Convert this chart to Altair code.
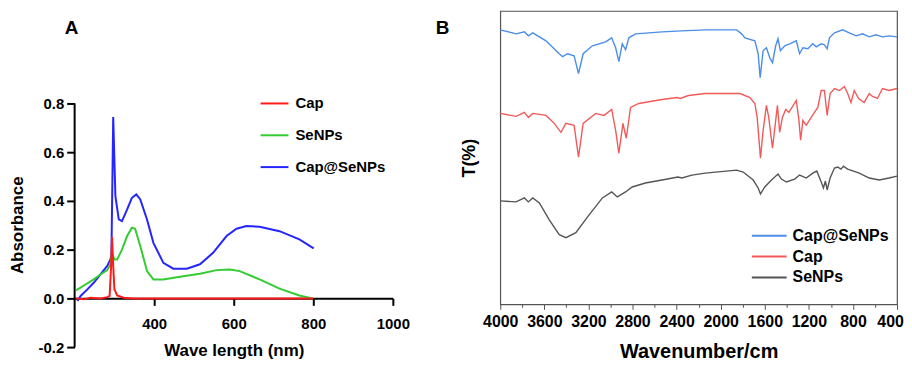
import altair as alt
import pandas as pd

FONT = "Liberation Sans"

# ---------------- Panel A: UV-Vis absorbance ----------------
capse_nm = [207, 215, 232, 248, 265, 282, 290, 292.5, 297, 302.5, 311, 319, 332, 344, 355, 365,
            382, 398, 423, 448, 482, 515, 548, 582, 607, 632, 665, 715, 765, 801]
capse_abs = [-0.011, 0.01, 0.037, 0.064, 0.099, 0.133, 0.16, 0.18, 0.745, 0.42, 0.324, 0.317,
             0.365, 0.413, 0.427, 0.406, 0.324, 0.228, 0.146, 0.122, 0.122, 0.14, 0.187, 0.256,
             0.286, 0.297, 0.294, 0.276, 0.242, 0.205]

senps_nm = [203, 215, 232, 248, 265, 282, 290, 294, 300, 307, 319, 332, 344, 352, 365, 382,
            398, 423, 465, 515, 557, 590, 615, 665, 715, 765, 798]
senps_abs = [0.033, 0.044, 0.062, 0.078, 0.098, 0.116, 0.14, 0.187, 0.16, 0.16, 0.2, 0.256,
             0.29, 0.286, 0.215, 0.112, 0.078, 0.078, 0.089, 0.101, 0.116, 0.119, 0.112, 0.078,
             0.04, 0.012, 0.0]

cap_nm = [203, 223, 240, 265, 282, 288, 291.7, 294, 297, 300, 307, 323, 348, 800]
cap_abs = [0, -0.004, 0.003, 0, 0.005, 0.01, 0.133, 0.253, 0.133, 0.037, 0.012, 0.003, 0, 0]

uv_series = ["Cap", "SeNPs", "Cap@SeNPs"]
uv_colors = ["#ff1a1a", "#33cc33", "#2525ff"]
uv_y_ticks = [-0.2, 0, 0.2, 0.4, 0.6, 0.8]
uv_x_ticks = [400, 600, 800, 1000]

uv_rows = []
for name, xs, ys, order in [("Cap@SeNPs", capse_nm, capse_abs, 0),
                            ("SeNPs", senps_nm, senps_abs, 1),
                            ("Cap", cap_nm, cap_abs, 2)]:
    for x, y in zip(xs, ys):
        uv_rows.append({"nm": x, "abs": y, "sample": name, "o": order})
uv_df = pd.DataFrame(uv_rows)

# ---------------- Panel B: FTIR ----------------
ftir_blue_wn = [4000, 3856, 3781, 3745, 3705, 3585, 3465, 3434, 3389, 3330, 3290, 3248, 3164,
                3044, 2989, 2953, 2924, 2893, 2863, 2833, 2773, 2532, 2352, 2141, 1855, 1810,
                1780, 1690, 1660, 1642, 1615, 1585, 1555, 1530, 1501, 1480, 1458, 1419, 1374,
                1314, 1284, 1254, 1209, 1164, 1133, 1088, 1059, 1034, 1013, 968, 893, 833, 772,
                713, 652, 592, 532, 472, 400]
ftir_blue_t = [276, 272, 274, 270, 273, 265, 252, 249, 252, 250, 232, 252, 260, 264, 268, 258,
               244, 262, 256, 268, 272, 274, 275, 276, 276, 272, 268, 265, 252, 228, 255, 258,
               248, 243, 260, 267, 255, 260, 262, 265, 252, 258, 257, 262, 259, 262, 261, 257,
               268, 273, 276, 273, 270, 272, 269, 271, 269, 270, 269]

ftir_red_wn = [4000, 3856, 3781, 3745, 3705, 3585, 3510, 3450, 3404, 3330, 3290, 3248, 3134,
               3059, 2989, 2953, 2924, 2887, 2857, 2818, 2743, 2532, 2397, 2367, 2292, 2141,
               1825, 1735, 1690, 1669, 1639, 1615, 1585, 1564, 1530, 1501, 1485, 1465, 1440,
               1410, 1381, 1314, 1290, 1275, 1254, 1224, 1179, 1149, 1119, 1088, 1059, 1034,
               1007, 968, 923, 878, 848, 818, 788, 749, 698, 652, 623, 578, 532, 472, 400]
ftir_red_t = [192, 189, 193, 188, 192, 190, 182, 173, 182, 180, 148, 182, 192, 190, 196, 175,
              152, 182, 167, 198, 202, 206, 208, 207, 210, 212, 212, 208, 202, 188, 147, 175,
              200, 188, 157, 185, 200, 173, 188, 196, 193, 205, 185, 165, 185, 180, 188, 193,
              198, 215, 215, 190, 212, 217, 215, 219, 212, 203, 215, 207, 203, 212, 209, 207,
              217, 215, 217]

ftir_gray_wn = [4000, 3856, 3781, 3745, 3705, 3645, 3555, 3465, 3404, 3314, 3194, 3073, 2989,
                2938, 2863, 2803, 2683, 2532, 2388, 2352, 2261, 2141, 1855, 1796, 1705, 1660,
                1639, 1600, 1539, 1480, 1449, 1404, 1329, 1284, 1224, 1164, 1128, 1088, 1068,
                1050, 1034, 1007, 968, 938, 908, 887, 848, 743, 652, 562, 472, 400]
ftir_gray_t = [104, 103, 107, 103, 107, 102, 85, 70, 67, 72, 90, 107, 113, 108, 113, 118, 122,
               125, 128, 127, 130, 132, 135, 133, 125, 117, 111, 118, 125, 131, 126, 123, 126,
               130, 127, 132, 134, 123, 117, 124, 115, 127, 137, 138, 136, 139, 136, 132, 127,
               125, 127, 129]

ftir_series = ["Cap@SeNPs", "Cap", "SeNPs"]
ftir_colors = ["#4a8ee8", "#f25a5a", "#555555"]
ftir_major = list(range(400, 4001, 400))
ftir_minor = list(range(600, 4000, 400))
ftir_legend_rows = [69, 48, 27]   # legend entry heights on the T axis

ftir_rows = []
for name, xs, ys in [("Cap@SeNPs", ftir_blue_wn, ftir_blue_t),
                     ("Cap", ftir_red_wn, ftir_red_t),
                     ("SeNPs", ftir_gray_wn, ftir_gray_t)]:
    for x, y in zip(xs, ys):
        ftir_rows.append({"wn": x, "t": y, "sample": name})
ftir_df = pd.DataFrame(ftir_rows)
ftir_leg_df = pd.DataFrame({"sample": ftir_series, "t": ftir_legend_rows})

# ---------------- Build Panel A ----------------
axA_common = dict(domainColor="black", domainWidth=2, tickColor="black", tickWidth=2,
                  labelFont=FONT, labelFontWeight="bold", labelFontSize=15, labelColor="black",
                  titleFont=FONT, titleFontWeight="bold", titleFontSize=17, titleColor="black",
                  grid=False, labelFlush=False)

xA = alt.X("nm:Q", scale=alt.Scale(domain=[200, 1000], nice=False, zero=False),
           axis=alt.Axis(values=uv_x_ticks, title="Wave length (nm)", offset=-49, format="d",
                         tickSize=7, labelPadding=11, titlePadding=11, **axA_common))
yA = alt.Y("abs:Q", scale=alt.Scale(domain=[-0.2, 1.18], nice=False),
           axis=alt.Axis(values=uv_y_ticks, title="Absorbance", domain=False,
                         labelExpr="replace(format(datum.value, '.1f'), '\u2212', '-')",
                         tickSize=8, labelPadding=3, titlePadding=12, titleY=215,
                         **axA_common))

linesA = alt.Chart(uv_df).mark_line(strokeWidth=2).encode(
    x=xA, y=yA,
    color=alt.Color("sample:N", scale=alt.Scale(domain=uv_series, range=uv_colors),
                    legend=alt.Legend(title=None, orient="none", legendX=186, legendY=78,
                                      symbolType="stroke", symbolSize=784, symbolStrokeWidth=2,
                                      labelFont=FONT, labelFontWeight="bold", labelFontSize=15,
                                      labelColor="black", labelOffset=6, rowPadding=9)),
    order=alt.Order("o:Q"),
    detail="sample:N",
)

yaxis_line = alt.Chart(pd.DataFrame({"x": [200], "y": [uv_y_ticks[0]], "y2": [uv_y_ticks[-1]]})
                       ).mark_rule(color="black", strokeWidth=2).encode(
    x="x:Q", y="y:Q", y2="y2:Q")

labelA = alt.Chart(pd.DataFrame({"t": ["A"]})).mark_text(
    font=FONT, fontWeight="bold", fontSize=19, color="black", baseline="middle", align="center"
).encode(text="t:N", x=alt.value(-3), y=alt.value(17))

panelA = alt.layer(yaxis_line, linesA, labelA).properties(width=320, height=338)

# ---------------- Build Panel B ----------------
axB_common = dict(labelFont=FONT, labelFontWeight="bold", labelColor="black",
                  titleFont=FONT, titleFontWeight="bold", titleColor="black", grid=False)

colorB = alt.Color("sample:N", scale=alt.Scale(domain=ftir_series, range=ftir_colors),
                   legend=None)
yB = alt.Y("t:Q", scale=alt.Scale(domain=[0, 295], nice=False),
           axis=alt.Axis(title="T(%)", labels=False, ticks=False, domain=False,
                         titleFontSize=18, titlePadding=22, **axB_common))

linesB = alt.Chart(ftir_df).mark_line(strokeWidth=1.4).encode(
    x=alt.X("wn:Q", scale=alt.Scale(domain=[4000, 400], nice=False, zero=False),
            axis=alt.Axis(values=ftir_major, format="d", title="Wavenumber/cm",
                          domain=False, tickColor="#555555", tickSize=5, labelFontSize=16,
                          labelPadding=4, titleFontSize=20, titlePadding=12, labelFlush=False,
                          labelOffset={"condition": {"test": "datum.value == 400", "value": -7},
                                       "value": 0},
                          **axB_common)),
    y=yB,
    color=colorB,
)

legSymB = alt.Chart(ftir_leg_df).mark_rule(strokeWidth=2).encode(
    x=alt.value(253), x2=alt.value(288), y=yB, color=colorB)

legTextB = alt.Chart(ftir_leg_df).mark_text(
    font=FONT, fontWeight="bold", fontSize=16, color="black", align="left", baseline="middle"
).encode(x=alt.value(294), y=yB, text="sample:N")

minorB = alt.Chart(pd.DataFrame({"wn": [4000]})).mark_point(opacity=0).encode(
    x=alt.X("wn:Q", axis=alt.Axis(values=ftir_minor, labels=False, title=None,
                                  domain=False, tickColor="#555555", tickSize=3, grid=False,
                                  orient="bottom")))

labelB = alt.Chart(pd.DataFrame({"t": ["B"]})).mark_text(
    font=FONT, fontWeight="bold", fontSize=19, color="black", baseline="middle", align="center"
).encode(text="t:N", x=alt.value(-58), y=alt.value(17))

panelB = alt.layer(linesB, legSymB, legTextB, minorB, labelB).resolve_axis(
    x="independent").properties(
    width=399, height=295, view=alt.ViewBackground(stroke="#555555", strokeWidth=1.2))

chart = alt.hconcat(panelA, panelB, spacing=25).resolve_scale(color="independent").properties(
    padding={"left": 0, "top": 1, "right": 0, "bottom": 0}
).configure_view(stroke=None)

chart.save("out.html", embed_options={"renderer": "svg", "actions": False})
